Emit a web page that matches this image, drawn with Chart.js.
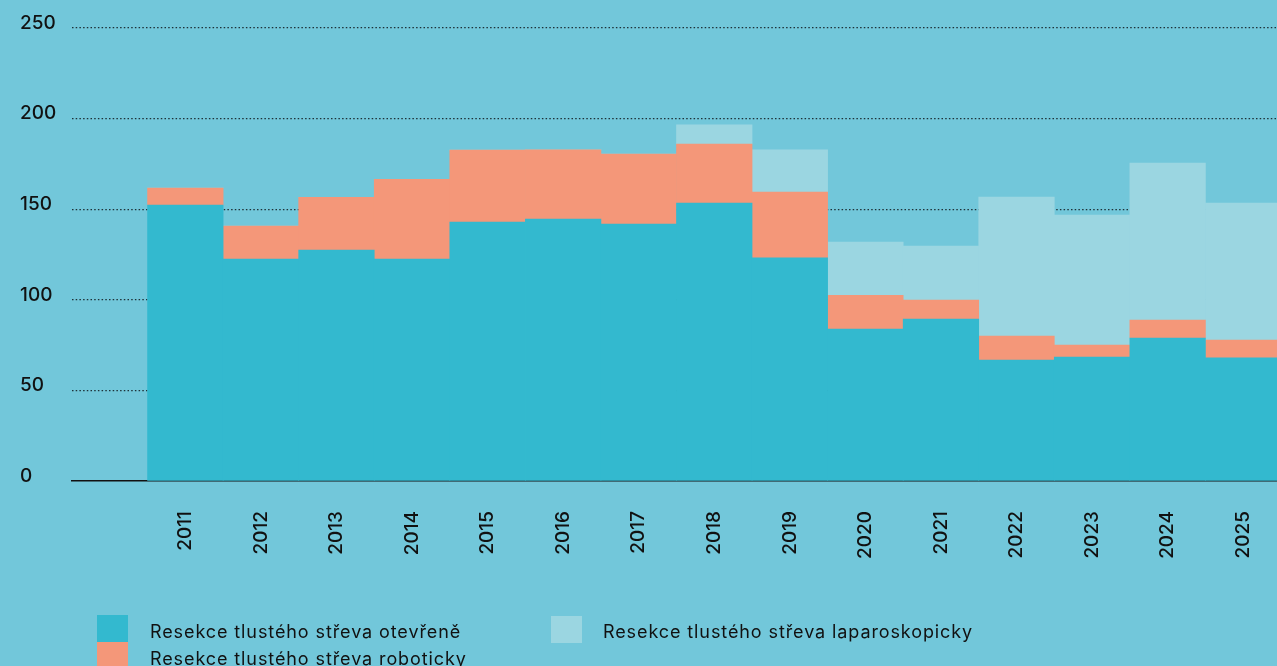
<!DOCTYPE html>
<html>
<head>
<meta charset="utf-8">
<script src="https://cdn.jsdelivr.net/npm/chart.js@4.4.1/dist/chart.umd.min.js"></script>
<style>
  html, body { margin: 0; padding: 0; width: 1277px; height: 666px; overflow: hidden; background: #72c7da; }
  #wrap { position: relative; width: 1296px; height: 600px; }
  #legend { position: absolute; left: 0; top: 0; width: 1277px; height: 666px; pointer-events: none;
            font-family: Inter, "Noto Sans", sans-serif; font-size: 18px; letter-spacing: 0.9px; color: #111; }
  .box { position: absolute; width: 31px; height: 27px; }
  .lbl { position: absolute; white-space: nowrap; line-height: 1; }
</style>
</head>
<body>
<div id="wrap"><canvas id="c" width="1296" height="600"></canvas></div>
<div id="legend"></div>
<script>
const categories = ['', '2011', '2012', '2013', '2014', '2015', '2016', '2017', '2018', '2019', '2020', '2021', '2022', '2023', '2024', '2025'];
const seriesNames = ['Resekce tlustého střeva otevřeně', 'Resekce tlustého střeva roboticky', 'Resekce tlustého střeva laparoskopicky'];
const openValues  = [null, 152.3, 122.5, 127.5, 122.5, 142.9, 144.6, 141.8, 153.4, 123.2, 83.9, 89.4, 66.8, 68.4, 78.9, 68.0];
const roboticValues = [null, 9.4, 18.2, 29.1, 44.0, 39.7, 38.1, 38.6, 32.6, 36.3, 18.6, 10.5, 13.2, 6.6, 9.9, 9.8];
const laparoValues  = [null, 0, 0, 0, 0, 0, 0, 0, 10.5, 23.2, 29.4, 29.8, 76.7, 71.7, 86.6, 75.6];
const yTicks = [0, 50, 100, 150, 200, 250];
const colors = ['#33b9cf', '#f49779', '#9bd6e1'];

const tickFont = { family: 'Inter, "Noto Sans", sans-serif', size: 19, weight: '500' };

const chart = new Chart(document.getElementById('c'), {
  type: 'bar',
  data: {
    labels: categories,
    datasets: [
      { label: seriesNames[0], data: openValues, backgroundColor: colors[0] },
      { label: seriesNames[1], data: roboticValues, backgroundColor: colors[1] },
      { label: seriesNames[2], data: laparoValues, backgroundColor: colors[2] }
    ]
  },
  options: {
    responsive: false,
    devicePixelRatio: 1,
    animation: false,
    layout: { padding: { left: 20, top: 28, right: 0, bottom: 0 } },
    datasets: { bar: { categoryPercentage: 1, barPercentage: 1, borderWidth: 0, borderSkipped: false } },
    plugins: { legend: { display: false }, tooltip: { enabled: false } },
    scales: {
      x: {
        stacked: true,
        z: 1,
        grid: { display: false, drawTicks: false },
        border: { display: true, color: '#111', width: 1.5 },
        ticks: { font: tickFont, color: '#111', minRotation: 90, maxRotation: 90, padding: 30, autoSkip: false },
        afterFit: (s) => { s.height = 119; }
      },
      y: {
        stacked: true,
        min: 0, max: 250,
        z: 1,
        afterBuildTicks: (s) => { s.ticks = yTicks.map(v => ({ value: v })); },
        grid: {
          drawTicks: false,
          color: (ctx) => ctx.tick && ctx.tick.value === 0 ? 'rgba(0,0,0,0)' : 'rgba(20,32,38,0.9)',
          lineWidth: 1.2
        },
        border: { display: false, dash: [1.5, 2.2] },
        ticks: { font: tickFont, color: '#111', crossAlign: 'far', labelOffset: -5, padding: 0 },
        afterFit: (s) => { s.width = 52; }
      }
    }
  }
});

// HTML legend built from the chart's datasets
const legendPos = [
  { bx: 97, by: 615, tx: 150, ty: 623 },
  { bx: 97, by: 642, tx: 150, ty: 650 },
  { bx: 551, by: 616, tx: 603, ty: 623 }
];
const lg = document.getElementById('legend');
chart.data.datasets.forEach((ds, i) => {
  const p = legendPos[i];
  const b = document.createElement('div');
  b.className = 'box';
  b.style.left = p.bx + 'px'; b.style.top = p.by + 'px';
  b.style.background = ds.backgroundColor;
  lg.appendChild(b);
  const t = document.createElement('div');
  t.className = 'lbl';
  t.style.left = p.tx + 'px'; t.style.top = p.ty + 'px';
  t.textContent = ds.label;
  lg.appendChild(t);
});
</script>
</body>
</html>
